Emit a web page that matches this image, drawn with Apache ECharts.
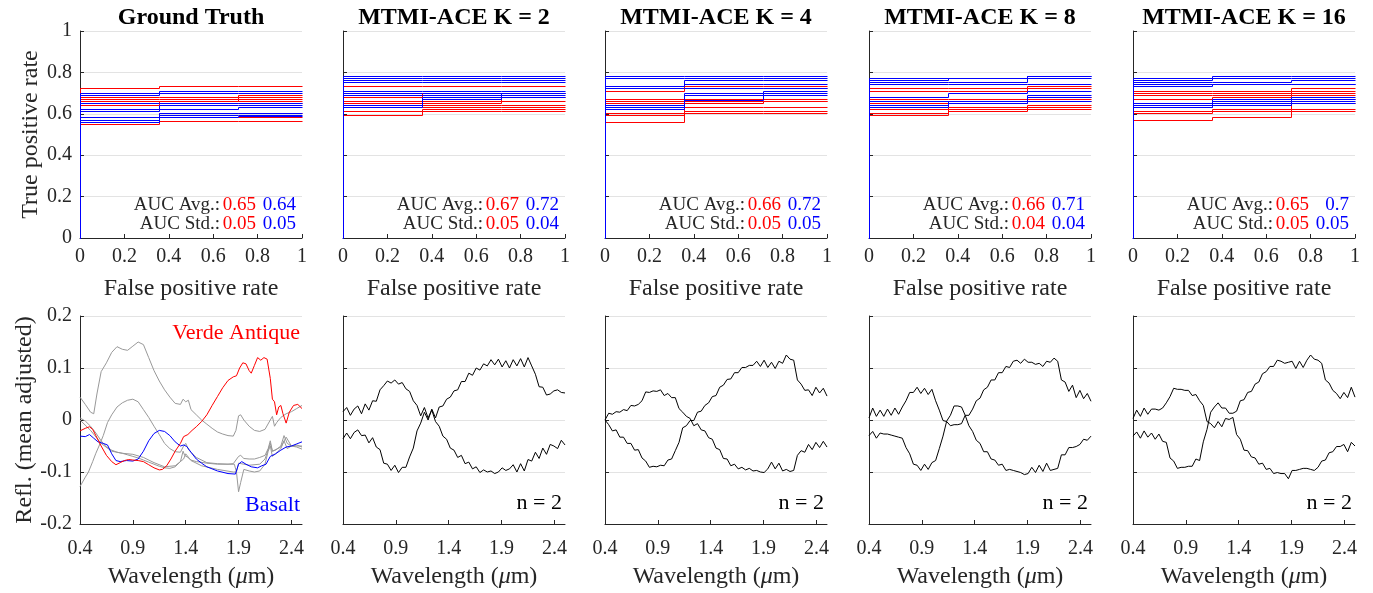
<!DOCTYPE html>
<html><head><meta charset="utf-8">
<script src="https://cdn.jsdelivr.net/npm/echarts@6/dist/echarts.min.js"></script>
<style>html,body{margin:0;padding:0;background:#fff}#c{width:1373px;height:593px}</style>
</head><body><div id="c"></div>
<script>
// ---------------- DATA ----------------
const panelTitles = ['Ground Truth', 'MTMI-ACE K = 2', 'MTMI-ACE K = 4', 'MTMI-ACE K = 8', 'MTMI-ACE K = 16'];
const fprSteps = [0, 0.357, 0.714, 1];
const waveTicks = [0.4, 0.9, 1.4, 1.9, 2.4];
const aucAvgRed = ['0.65', '0.67', '0.66', '0.66', '0.65'];
const aucAvgBlue = ['0.64', '0.72', '0.72', '0.71', '0.7'];
const aucStdRed = ['0.05', '0.05', '0.05', '0.04', '0.05'];
const aucStdBlue = ['0.05', '0.04', '0.05', '0.04', '0.05'];
const nLabel = 'n = 2';

// ROC curves: TPR on the three FPR segments
const rocRedGT = [[0.72,0.73,0.73],[0.68,0.68,0.69],[0.67,0.67,0.68],[0.66,0.66,0.67],[0.65,0.66,0.66],[0.64,0.65,0.65],[0.58,0.60,0.60],[0.57,0.58,0.58],[0.55,0.565,0.565]];
const rocBlueGT = [[0.70,0.71,0.71],[0.69,0.70,0.70],[0.65,0.65,0.65],[0.62,0.64,0.64],[0.61,0.62,0.63],[0.58,0.60,0.60],[0.57,0.59,0.59],[0.56,0.58,0.585]];
const rocRedK2 = [[0.73,0.73,0.73],[0.68,0.70,0.70],[0.66,0.66,0.68],[0.65,0.65,0.66],[0.64,0.64,0.64],[0.63,0.63,0.63],[0.61,0.62,0.62],[0.59,0.61,0.61]];
const rocBlueK2 = [[0.78,0.78,0.78],[0.77,0.77,0.77],[0.76,0.76,0.76],[0.75,0.75,0.75],[0.71,0.71,0.71],[0.70,0.70,0.70],[0.69,0.69,0.70],[0.64,0.68,0.69],[0.63,0.67,0.68]];
const rocRedK4 = [[0.72,0.73,0.73],[0.71,0.72,0.72],[0.67,0.67,0.67],[0.66,0.66,0.66],[0.65,0.65,0.66],[0.60,0.63,0.63],[0.59,0.61,0.61],[0.56,0.60,0.60]];
const rocBlueK4 = [[0.78,0.78,0.78],[0.77,0.77,0.77],[0.73,0.76,0.76],[0.73,0.74,0.74],[0.72,0.72,0.72],[0.64,0.70,0.71],[0.63,0.69,0.70],[0.62,0.665,0.69]];
const rocRedK8 = [[0.72,0.72,0.73],[0.71,0.71,0.72],[0.67,0.67,0.68],[0.66,0.66,0.67],[0.65,0.65,0.66],[0.62,0.63,0.64],[0.60,0.62,0.63],[0.59,0.61,0.62]];
const rocBlueK8 = [[0.77,0.77,0.78],[0.76,0.77,0.78],[0.75,0.75,0.77],[0.74,0.74,0.74],[0.68,0.70,0.71],[0.66,0.66,0.69],[0.64,0.66,0.68],[0.63,0.65,0.66]];
const rocRedK16 = [[0.71,0.71,0.72],[0.70,0.70,0.71],[0.69,0.69,0.70],[0.67,0.68,0.69],[0.63,0.64,0.67],[0.61,0.62,0.65],[0.60,0.61,0.62],[0.57,0.58,0.61]];
const rocBlueK16 = [[0.77,0.78,0.78],[0.76,0.77,0.77],[0.75,0.75,0.76],[0.74,0.74,0.74],[0.73,0.74,0.74],[0.65,0.67,0.68],[0.64,0.66,0.67],[0.64,0.65,0.66],[0.63,0.64,0.65]];
const rocRed = [rocRedGT, rocRedK2, rocRedK4, rocRedK8, rocRedK16];
const rocBlue = [rocBlueGT, rocBlueK2, rocBlueK4, rocBlueK8, rocBlueK16];

// Ground-truth spectra [wavelength, reflectance]
const gtGray1 = [[0.4,0.044],[0.45,0.03],[0.5,0.015],[0.53,0.012],[0.56,0.05],[0.6,0.093],[0.65,0.11],[0.7,0.13],[0.75,0.141],[0.8,0.136],[0.85,0.134],[0.9,0.142],[0.95,0.15],[1.0,0.145],[1.05,0.12],[1.1,0.095],[1.15,0.075],[1.2,0.058],[1.25,0.044],[1.3,0.032],[1.35,0.03],[1.375,0.04],[1.4,0.035],[1.425,0.038],[1.45,0.02],[1.5,0.01],[1.55,0.0],[1.6,-0.008],[1.65,-0.016],[1.7,-0.023],[1.75,-0.027],[1.8,-0.03],[1.85,-0.031],[1.875,-0.02],[1.9,0.008],[1.92,0.01],[1.95,0.0],[2.0,-0.012],[2.05,-0.02],[2.1,-0.022],[2.15,-0.018],[2.2,0.0],[2.22,0.007],[2.24,-0.012],[2.26,-0.005],[2.3,0.005],[2.35,0.012],[2.4,0.016],[2.45,0.022],[2.5,0.028]];
const gtGray2 = [[0.4,0.004],[0.45,-0.002],[0.5,-0.012],[0.55,-0.025],[0.6,-0.04],[0.65,-0.052],[0.7,-0.058],[0.75,-0.062],[0.8,-0.064],[0.85,-0.067],[0.9,-0.07],[0.95,-0.073],[1.0,-0.077],[1.05,-0.081],[1.1,-0.085],[1.15,-0.089],[1.2,-0.092],[1.25,-0.093],[1.3,-0.09],[1.35,-0.08],[1.375,-0.06],[1.39,-0.068],[1.42,-0.072],[1.45,-0.077],[1.5,-0.08],[1.6,-0.083],[1.7,-0.085],[1.8,-0.085],[1.85,-0.084],[1.9,-0.07],[1.92,-0.068],[1.95,-0.074],[2.0,-0.075],[2.05,-0.075],[2.1,-0.072],[2.15,-0.068],[2.18,-0.055],[2.2,-0.04],[2.22,-0.06],[2.25,-0.058],[2.3,-0.05],[2.33,-0.03],[2.36,-0.045],[2.4,-0.05],[2.45,-0.052],[2.5,-0.056]];
const gtGray3 = [[0.4,0.0],[0.5,-0.02],[0.6,-0.045],[0.7,-0.06],[0.8,-0.064],[0.9,-0.066],[1.0,-0.072],[1.1,-0.082],[1.2,-0.09],[1.3,-0.088],[1.38,-0.075],[1.4,-0.065],[1.45,-0.078],[1.55,-0.088],[1.7,-0.095],[1.85,-0.1],[1.88,-0.1],[1.9,-0.083],[1.95,-0.085],[2.0,-0.087],[2.1,-0.085],[2.15,-0.075],[2.2,-0.045],[2.22,-0.06],[2.3,-0.052],[2.35,-0.033],[2.4,-0.05],[2.5,-0.05]];
const gtGray4 = [[0.4,-0.128],[0.45,-0.11],[0.48,-0.1],[0.52,-0.08],[0.55,-0.064],[0.58,-0.05],[0.62,-0.03],[0.66,-0.005],[0.7,0.01],[0.75,0.025],[0.8,0.033],[0.85,0.038],[0.9,0.04],[0.95,0.035],[1.0,0.02],[1.05,0.005],[1.1,-0.012],[1.15,-0.028],[1.2,-0.045],[1.25,-0.055],[1.3,-0.061],[1.35,-0.062],[1.38,-0.05],[1.4,-0.045],[1.43,-0.058],[1.5,-0.072],[1.6,-0.082],[1.7,-0.084],[1.8,-0.085],[1.86,-0.085],[1.88,-0.1],[1.9,-0.138],[1.92,-0.12],[1.95,-0.095],[2.0,-0.098],[2.05,-0.1],[2.1,-0.098],[2.15,-0.085],[2.18,-0.06],[2.2,-0.05],[2.22,-0.07],[2.25,-0.065],[2.3,-0.055],[2.33,-0.04],[2.36,-0.055],[2.4,-0.05],[2.45,-0.048],[2.5,-0.052]];
const gtVerde = [[0.4,-0.021],[0.45,-0.016],[0.49,-0.013],[0.52,-0.018],[0.55,-0.03],[0.6,-0.05],[0.65,-0.068],[0.7,-0.08],[0.74,-0.086],[0.78,-0.082],[0.82,-0.078],[0.86,-0.076],[0.9,-0.077],[0.95,-0.078],[1.0,-0.08],[1.05,-0.086],[1.1,-0.092],[1.15,-0.096],[1.18,-0.095],[1.22,-0.088],[1.26,-0.075],[1.3,-0.06],[1.35,-0.045],[1.38,-0.032],[1.42,-0.028],[1.46,-0.02],[1.5,-0.013],[1.55,-0.003],[1.6,0.01],[1.65,0.028],[1.7,0.045],[1.75,0.062],[1.8,0.076],[1.85,0.083],[1.88,0.085],[1.91,0.1],[1.94,0.11],[1.97,0.108],[2.0,0.095],[2.02,0.09],[2.05,0.105],[2.08,0.12],[2.11,0.115],[2.14,0.12],[2.17,0.117],[2.2,0.08],[2.22,0.04],[2.24,0.035],[2.26,0.01],[2.28,0.025],[2.3,0.028],[2.32,0.012],[2.35,-0.006],[2.38,0.015],[2.42,0.028],[2.46,0.03],[2.5,0.022]];
const gtBasalt = [[0.4,-0.031],[0.45,-0.032],[0.49,-0.028],[0.53,-0.035],[0.57,-0.042],[0.62,-0.045],[0.66,-0.048],[0.7,-0.065],[0.74,-0.078],[0.78,-0.08],[0.84,-0.078],[0.9,-0.079],[0.95,-0.075],[1.0,-0.06],[1.05,-0.04],[1.1,-0.026],[1.15,-0.02],[1.2,-0.022],[1.25,-0.03],[1.3,-0.042],[1.35,-0.05],[1.38,-0.048],[1.41,-0.051],[1.45,-0.062],[1.5,-0.075],[1.55,-0.083],[1.6,-0.09],[1.7,-0.098],[1.8,-0.103],[1.87,-0.104],[1.9,-0.085],[1.93,-0.08],[1.97,-0.085],[2.02,-0.09],[2.08,-0.092],[2.12,-0.088],[2.16,-0.085],[2.2,-0.07],[2.25,-0.065],[2.3,-0.058],[2.35,-0.052],[2.4,-0.05],[2.45,-0.046],[2.5,-0.042]];

// Estimated endmembers (MTMI-ACE), on a common wavelength grid
const waveGrid = [0.4,0.435,0.47,0.505,0.54,0.575,0.61,0.645,0.68,0.715,0.75,0.785,0.82,0.855,0.89,0.925,0.96,0.995,1.03,1.065,1.1,1.135,1.17,1.205,1.24,1.275,1.31,1.345,1.38,1.415,1.45,1.485,1.52,1.555,1.59,1.625,1.66,1.695,1.73,1.765,1.8,1.835,1.87,1.905,1.94,1.975,2.01,2.045,2.08,2.115,2.15,2.185,2.22,2.255,2.29,2.325,2.36,2.395,2.43,2.465,2.5];
const k2EmA = [0.016,0.024,0.009,0.021,0.027,0.012,0.031,0.019,0.037,0.036,
  0.058,0.066,0.075,0.071,0.077,0.069,0.072,0.06,0.055,0.037,
  0.028,0.008,0.024,0.004,0.019,-0.003,-0.012,-0.031,-0.037,-0.054,
  -0.058,-0.072,-0.068,-0.084,-0.081,-0.094,-0.09,-0.101,-0.096,-0.1,
  -0.098,-0.103,-0.1,-0.092,-0.097,-0.094,-0.086,-0.1,-0.084,-0.098,
  -0.076,-0.079,-0.062,-0.074,-0.054,-0.066,-0.047,-0.05,-0.055,-0.039,-0.048];
const k2EmB = [-0.036,-0.025,-0.036,-0.024,-0.019,-0.03,-0.029,-0.044,-0.034,-0.052,
  -0.057,-0.083,-0.085,-0.097,-0.087,-0.101,-0.091,-0.091,-0.071,-0.054,
  -0.021,-0.006,0.015,0.0,0.021,0.004,0.025,0.027,0.04,0.044,
  0.056,0.058,0.074,0.074,0.09,0.086,0.1,0.096,0.108,0.104,
  0.116,0.106,0.117,0.102,0.114,0.1,0.116,0.104,0.118,0.102,
  0.12,0.104,0.088,0.064,0.063,0.048,0.05,0.056,0.058,0.053,0.052];
const k4EmA = [0.0,0.013,0.011,0.016,0.015,0.02,0.018,0.028,0.027,0.03,
  0.037,0.054,0.053,0.056,0.055,0.058,0.047,0.051,0.043,0.043,
  0.022,0.015,0.007,0.003,-0.011,-0.007,-0.019,-0.021,-0.034,-0.037,
  -0.054,-0.057,-0.074,-0.075,-0.088,-0.085,-0.094,-0.091,-0.096,-0.093,
  -0.098,-0.097,-0.1,-0.101,-0.094,-0.081,-0.094,-0.083,-0.098,-0.095,
  -0.099,-0.097,-0.068,-0.059,-0.062,-0.047,-0.057,-0.043,-0.053,-0.041,-0.052];
const k4EmB = [0.0,-0.009,-0.021,-0.019,-0.033,-0.033,-0.045,-0.045,-0.058,-0.057,
  -0.073,-0.079,-0.091,-0.089,-0.09,-0.087,-0.088,-0.077,-0.075,-0.059,
  -0.043,-0.015,-0.011,-0.001,-0.001,0.015,0.017,0.028,0.033,0.045,
  0.047,0.063,0.067,0.078,0.079,0.091,0.091,0.101,0.101,0.105,
  0.105,0.113,0.103,0.115,0.101,0.111,0.099,0.113,0.109,0.125,
  0.117,0.115,0.077,0.069,0.057,0.058,0.047,0.063,0.052,0.061,0.046];
const k8EmA = [0.004,0.023,0.007,0.019,0.007,0.021,0.009,0.023,0.011,0.025,
  0.037,0.053,0.053,0.063,0.051,0.061,0.049,0.059,0.037,0.019,
  -0.001,-0.003,-0.011,-0.009,-0.009,-0.007,0.009,-0.011,-0.022,-0.039,
  -0.045,-0.061,-0.061,-0.075,-0.077,-0.087,-0.085,-0.097,-0.095,-0.097,
  -0.099,-0.101,-0.105,-0.103,-0.091,-0.101,-0.087,-0.099,-0.083,-0.097,
  -0.095,-0.093,-0.067,-0.067,-0.053,-0.053,-0.051,-0.047,-0.037,-0.039,-0.031];
const k8EmB = [-0.03,-0.022,-0.035,-0.025,-0.027,-0.027,-0.029,-0.031,-0.033,-0.035,
  -0.053,-0.065,-0.085,-0.087,-0.097,-0.085,-0.095,-0.082,-0.078,-0.055,
  -0.031,-0.002,0.009,0.027,0.027,0.025,0.009,0.009,0.021,0.037,
  0.042,0.058,0.063,0.077,0.077,0.091,0.091,0.103,0.101,0.113,
  0.115,0.109,0.117,0.111,0.111,0.107,0.109,0.103,0.113,0.111,
  0.119,0.113,0.077,0.073,0.055,0.067,0.043,0.057,0.041,0.051,0.036];
const k16EmA = [0.003,0.019,0.007,0.023,0.011,0.021,0.021,0.019,0.023,0.033,
  0.045,0.061,0.059,0.059,0.057,0.057,0.047,0.049,0.037,0.028,
  -0.003,-0.007,-0.015,-0.003,-0.013,0.003,0.001,0.005,-0.028,-0.037,
  -0.058,-0.059,-0.071,-0.073,-0.085,-0.083,-0.095,-0.093,-0.103,-0.101,
  -0.103,-0.103,-0.113,-0.097,-0.097,-0.095,-0.093,-0.093,-0.095,-0.097,
  -0.091,-0.079,-0.077,-0.063,-0.061,-0.051,-0.051,-0.047,-0.061,-0.043,-0.05];
const k16EmB = [-0.031,-0.023,-0.035,-0.021,-0.033,-0.025,-0.037,-0.027,-0.041,-0.043,
  -0.073,-0.079,-0.093,-0.091,-0.091,-0.089,-0.089,-0.075,-0.078,-0.042,
  -0.018,0.015,0.025,0.033,0.023,0.023,0.013,0.013,0.017,0.037,
  0.039,0.053,0.055,0.069,0.073,0.089,0.093,0.103,0.103,0.115,
  0.113,0.109,0.111,0.113,0.099,0.113,0.101,0.115,0.125,0.117,
  0.115,0.109,0.077,0.071,0.057,0.051,0.041,0.053,0.043,0.063,0.044];
const estEndmembers = [[k2EmA, k2EmB], [k4EmA, k4EmB], [k8EmA, k8EmB], [k16EmA, k16EmB]];

// ---------------- LAYOUT / STYLE ----------------
const FONT = 'Liberation Serif';
const TXT = '#262626';
const RED = '#ff0000', BLUE = '#0000ff', GRAY = '#999999';
const colLefts = [80, 343, 605, 869, 1133];
const PW = 222;
const TOP1 = 31, H1 = 207, TOP2 = 316, H2 = 208;

const grids = [], xAxes = [], yAxes = [], series = [], titles = [];
const axisLine = { show: true, onZero: false, lineStyle: { color: TXT, width: 1 } };
const axisTick = { show: true, inside: true, length: 4, lineStyle: { color: TXT, width: 1 } };
const labelStyle = { fontFamily: FONT, fontSize: 20, color: TXT, fontWeight: 'normal' };
const splitLine = { show: true, lineStyle: { color: '#e3e3e3', width: 1 } };
const nameStyle = { fontFamily: FONT, fontSize: 24, color: TXT, fontWeight: 'normal',
  rich: { i: { fontFamily: FONT, fontSize: 24, fontStyle: 'italic', color: TXT } } };

colLefts.forEach(L => grids.push({ left: L, top: TOP1, width: PW, height: H1 }));
colLefts.forEach(L => grids.push({ left: L, top: TOP2, width: PW, height: H2 }));

for (let i = 0; i < 5; i++) {
  xAxes.push({ type: 'value', gridIndex: i, min: 0, max: 1, interval: 0.2,
    axisLine, axisTick, splitLine: { show: false },
    axisLabel: Object.assign({ margin: 9 }, labelStyle),
    name: 'False positive rate', nameLocation: 'middle', nameGap: 39, nameTextStyle: nameStyle });
  yAxes.push({ type: 'value', gridIndex: i, min: 0, max: 1, interval: 0.2,
    axisLine, axisTick, splitLine,
    axisLabel: Object.assign({ show: i === 0, margin: 8 }, labelStyle),
    name: i === 0 ? 'True positive rate' : '', nameLocation: 'middle', nameGap: 33, nameTextStyle: nameStyle });
}
for (let i = 0; i < 5; i++) {
  xAxes.push({ type: 'value', gridIndex: 5 + i, min: 0.4, max: 2.5,
    axisLine,
    axisTick: Object.assign({ customValues: waveTicks }, axisTick),
    splitLine: { show: false },
    axisLabel: Object.assign({ customValues: waveTicks, margin: 15 }, labelStyle),
    name: 'Wavelength ({i|μ}m)', nameLocation: 'middle', nameGap: 41, nameTextStyle: nameStyle });
  yAxes.push({ type: 'value', gridIndex: 5 + i, min: -0.2, max: 0.2, interval: 0.1,
    axisLine, axisTick, splitLine,
    axisLabel: Object.assign({ show: i === 0, margin: 8 }, labelStyle),
    name: i === 0 ? 'Refl. (mean adjusted)' : '', nameLocation: 'middle', nameGap: 38, nameTextStyle: nameStyle });
}

// ROC step curves as custom series (pixel-snapped for crisp 1px lines)
function snap(v) { return Math.round(v - 0.5) + 0.5; }
function rocSeries(ax, triples, color, z) {
  return {
    type: 'custom', xAxisIndex: ax, yAxisIndex: ax, data: triples, silent: true, clip: false, z,
    animation: false,
    renderItem: function (params, api) {
      const a = api.value(0), b = api.value(1), c = api.value(2);
      const pts = [[fprSteps[0], 0], [fprSteps[0], a], [fprSteps[1], a], [fprSteps[1], b],
                   [fprSteps[2], b], [fprSteps[2], c], [fprSteps[3], c]]
        .map(p => { const q = api.coord(p); return [snap(q[0]), snap(q[1])]; });
      return { type: 'polyline', shape: { points: pts }, style: { stroke: color, lineWidth: 1, fill: null } };
    }
  };
}
function lineSeries(ax, data, color, z) {
  return { type: 'line', xAxisIndex: ax, yAxisIndex: ax, data, symbol: 'none', showSymbol: false,
    lineStyle: { color, width: 1 }, itemStyle: { color }, silent: true, clip: false, animation: false, z };
}

for (let p = 0; p < 5; p++) {
  series.push(rocSeries(p, rocRed[p], RED, 2));
  series.push(rocSeries(p, rocBlue[p], BLUE, 3));
}
[gtGray1, gtGray2, gtGray3, gtGray4].forEach(d => series.push(lineSeries(5, d, GRAY, 2)));
series.push(lineSeries(5, gtBasalt, BLUE, 3));
series.push(lineSeries(5, gtVerde, RED, 4));
estEndmembers.forEach((pair, k) => {
  pair.forEach(vals => series.push(lineSeries(6 + k, waveGrid.map((w, j) => [w, vals[j]]), '#000000', 3)));
});

const aucRich = {
  l: { fontFamily: FONT, fontSize: 19, fontWeight: 'normal', color: TXT, lineHeight: 20 },
  r: { fontFamily: FONT, fontSize: 19, fontWeight: 'normal', color: RED, width: 36, align: 'right', lineHeight: 20 },
  b: { fontFamily: FONT, fontSize: 19, fontWeight: 'normal', color: BLUE, width: 40, align: 'right', lineHeight: 20 }
};
for (let i = 0; i < 5; i++) {
  const L = colLefts[i], R = L + PW;
  titles.push({ text: panelTitles[i], left: L + PW / 2, top: 6, textAlign: 'center', padding: 0,
    textStyle: { fontFamily: FONT, fontWeight: 'bold', fontSize: 24, color: '#000', lineHeight: 24 } });
  titles.push({ text: '{l|AUC Avg.:}{r|' + aucAvgRed[i] + '}{b|' + aucAvgBlue[i] + '}', left: R - 6, top: 195, textAlign: 'right', padding: 0,
    textStyle: { fontFamily: FONT, fontSize: 19, fontWeight: 'normal', rich: aucRich } });
  titles.push({ text: '{l|AUC Std.:}{r|' + aucStdRed[i] + '}{b|' + aucStdBlue[i] + '}', left: R - 6, top: 214, textAlign: 'right', padding: 0,
    textStyle: { fontFamily: FONT, fontSize: 19, fontWeight: 'normal', rich: aucRich } });
  if (i > 0) {
    titles.push({ text: nLabel, left: R - 3, top: 492, textAlign: 'right', padding: 0,
      textStyle: { fontFamily: FONT, fontWeight: 'normal', fontSize: 22, color: '#000', lineHeight: 22 } });
  }
}
titles.push({ text: 'Verde Antique', left: colLefts[0] + PW - 2, top: 322, textAlign: 'right', padding: 0,
  textStyle: { fontFamily: FONT, fontWeight: 'normal', fontSize: 22, color: RED, lineHeight: 22 } });
titles.push({ text: 'Basalt', left: colLefts[0] + PW - 2, top: 494, textAlign: 'right', padding: 0,
  textStyle: { fontFamily: FONT, fontWeight: 'normal', fontSize: 22, color: BLUE, lineHeight: 22 } });

const chart = echarts.init(document.getElementById('c'), null, { renderer: 'canvas' });
chart.setOption({
  animation: false,
  backgroundColor: '#ffffff',
  title: titles,
  grid: grids,
  xAxis: xAxes,
  yAxis: yAxes,
  series
});
</script>
</body></html>
